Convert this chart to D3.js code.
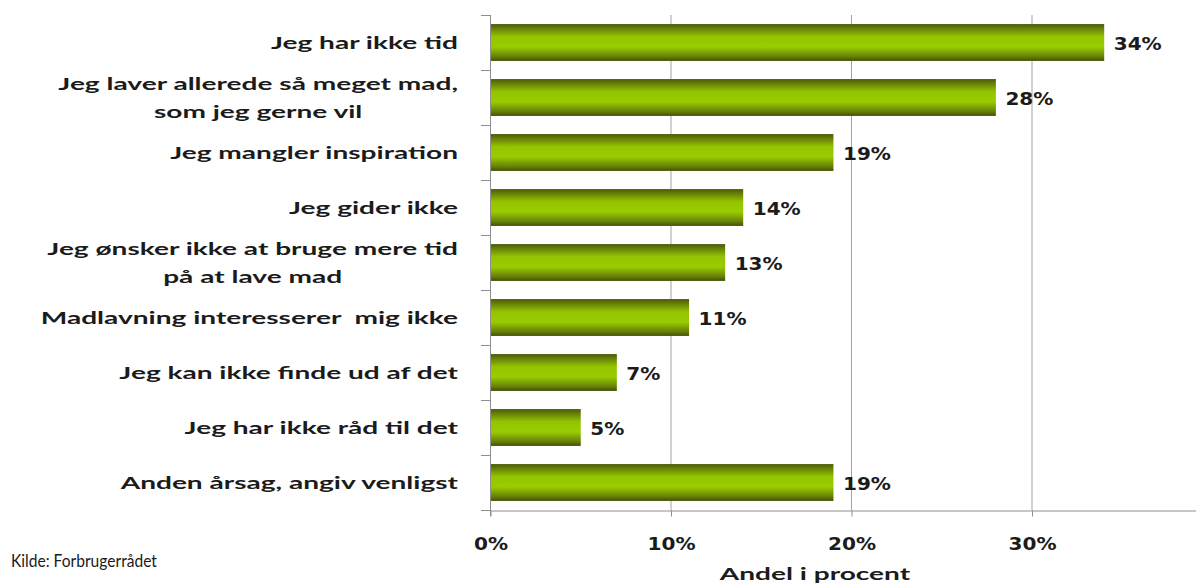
<!DOCTYPE html>
<html>
<head>
<meta charset="utf-8">
<script src="https://cdn.jsdelivr.net/npm/d3@7"></script>
<style>
  html, body { margin: 0; padding: 0; background: #ffffff; }
  svg { display: block; }
  text { white-space: pre; }
</style>
</head>
<body>
<svg id="chart" width="1196" height="583"></svg>
<script>
// Reasons given for not cooking more (share of respondents, %)
const categories = [
  "Jeg har ikke tid",
  "Jeg laver allerede så meget mad,\nsom jeg gerne vil",
  "Jeg mangler inspiration",
  "Jeg gider ikke",
  "Jeg ønsker ikke at bruge mere tid\npå at lave mad",
  "Madlavning interesserer  mig ikke",
  "Jeg kan ikke finde ud af det",
  "Jeg har ikke råd til det",
  "Anden årsag, angiv venligst"
];
const shares = [34, 28, 19, 14, 13, 11, 7, 5, 19];
const tickValues = [0, 10, 20, 30];
const axisTitle = "Andel i procent";
const sourceNote = "Kilde: Forbrugerrådet";

const svg = d3.select("#chart");
const ink = "#1b1b1b";
const labelFont = "Lato, 'Open Sans', sans-serif";
const numberFont = "'DejaVu Sans', Verdana, sans-serif";
const LABEL_STRETCH = 1.7;
const NUMBER_STRETCH = 1.18;
const NOTE_STRETCH = 0.89;

// Scales
const x = d3.scaleLinear().domain([0, 40]).range([490, 1212]);
const y = d3.scaleBand().domain(d3.range(categories.length)).range([15, 510])
  .paddingInner(0.33).paddingOuter(0.165);

// Rescale text glyphs horizontally by a constant factor
function widen(sel, k) {
  sel.each(function () {
    const w = this.getComputedTextLength();
    this.setAttribute("textLength", w * k);
    this.setAttribute("lengthAdjust", "spacingAndGlyphs");
  });
}

// Bar gradient: dark edges, bright green middle
const defs = svg.append("defs");
const grad = defs.append("linearGradient").attr("id", "barFill")
  .attr("x1", 0).attr("y1", 0).attr("x2", 0).attr("y2", 1);
[[0, "#4a5904"], [0.1, "#62790a"], [0.34, "#94c400"], [0.62, "#99cc00"],
 [0.88, "#66800a"], [1, "#435004"]].forEach(([o, c]) =>
  grad.append("stop").attr("offset", o).attr("stop-color", c));

// Vertical gridlines
svg.append("g").selectAll("line")
  .data(tickValues.filter(d => d > 0))
  .join("line")
  .attr("x1", d => x(d) + 0.5).attr("x2", d => x(d) + 0.5)
  .attr("y1", y.range()[0]).attr("y2", y.range()[1])
  .attr("stroke", "#a3a3a3").attr("stroke-width", 1);

// Bars
svg.append("g").selectAll("rect")
  .data(shares)
  .join("rect")
  .attr("x", x(0) + 0.5)
  .attr("y", (d, i) => y(i))
  .attr("width", d => x(d) - x(0))
  .attr("height", y.bandwidth())
  .attr("fill", "url(#barFill)");

// Category axis (left): line plus boundary ticks
const yAxis = svg.append("g").attr("stroke", "#8e8e8e").attr("stroke-width", 1);
yAxis.append("line")
  .attr("x1", x(0) + 0.5).attr("x2", x(0) + 0.5)
  .attr("y1", y.range()[0]).attr("y2", y.range()[1] + 6);
yAxis.selectAll("line.tick")
  .data(d3.range(categories.length + 1))
  .join("line").attr("class", "tick")
  .attr("x1", x(0) - 9).attr("x2", x(0) + 0.5)
  .attr("y1", i => y.range()[0] + i * y.step() + 0.5)
  .attr("y2", i => y.range()[0] + i * y.step() + 0.5);

// Value axis (bottom)
const xAxis = svg.append("g")
  .attr("transform", `translate(0.5,${y.range()[1] + 0.5})`)
  .call(d3.axisBottom(x).tickValues(tickValues).tickSize(6).tickSizeOuter(0)
    .tickPadding(21).tickFormat(d => d + "%"));
xAxis.select(".domain").attr("stroke", "#8e8e8e");
xAxis.selectAll(".tick line").attr("stroke", "#8e8e8e");
xAxis.selectAll(".tick text")
  .attr("fill", ink).attr("font-family", numberFont)
  .attr("font-weight", "bold").attr("font-size", 17)
  .call(widen, NUMBER_STRETCH);

// Category labels, lines centred on each other, block right-aligned
const labelRight = 458;
categories.forEach((cat, i) => {
  const lines = cat.split("\n");
  const cy = y(i) + y.bandwidth() / 2;
  const g = svg.append("g");
  const texts = g.selectAll("text").data(lines).join("text")
    .attr("x", 0)
    .attr("y", (d, j) => cy + 6.5 + (j - (lines.length - 1) / 2) * 28)
    .attr("text-anchor", "middle")
    .attr("fill", ink).attr("font-family", labelFont)
    .attr("font-weight", "bold").attr("font-size", 17)
    .text(d => d);
  texts.call(widen, LABEL_STRETCH * 16.5 / 17);
  const maxW = d3.max(texts.nodes(), n => +n.getAttribute("textLength"));
  g.attr("transform", `translate(${labelRight - maxW / 2},0)`);
});

// Value labels
svg.append("g").selectAll("text")
  .data(shares)
  .join("text")
  .attr("x", d => x(d) + 10)
  .attr("y", (d, i) => y(i) + y.bandwidth() / 2 + 7)
  .attr("fill", ink).attr("font-family", numberFont)
  .attr("font-weight", "bold").attr("font-size", 17)
  .text(d => d + "%")
  .call(widen, NUMBER_STRETCH);

// Axis title
svg.append("text")
  .attr("x", 815).attr("y", 580)
  .attr("text-anchor", "middle")
  .attr("fill", ink).attr("font-family", labelFont)
  .attr("font-weight", "bold").attr("font-size", 17)
  .text(axisTitle)
  .call(widen, LABEL_STRETCH * 16.5 / 17);

// Source note
svg.append("text")
  .attr("x", 11).attr("y", 567)
  .attr("fill", ink).attr("font-family", labelFont)
  .attr("font-size", 17.5)
  .text(sourceNote)
  .call(widen, NOTE_STRETCH);
</script>
</body>
</html>
